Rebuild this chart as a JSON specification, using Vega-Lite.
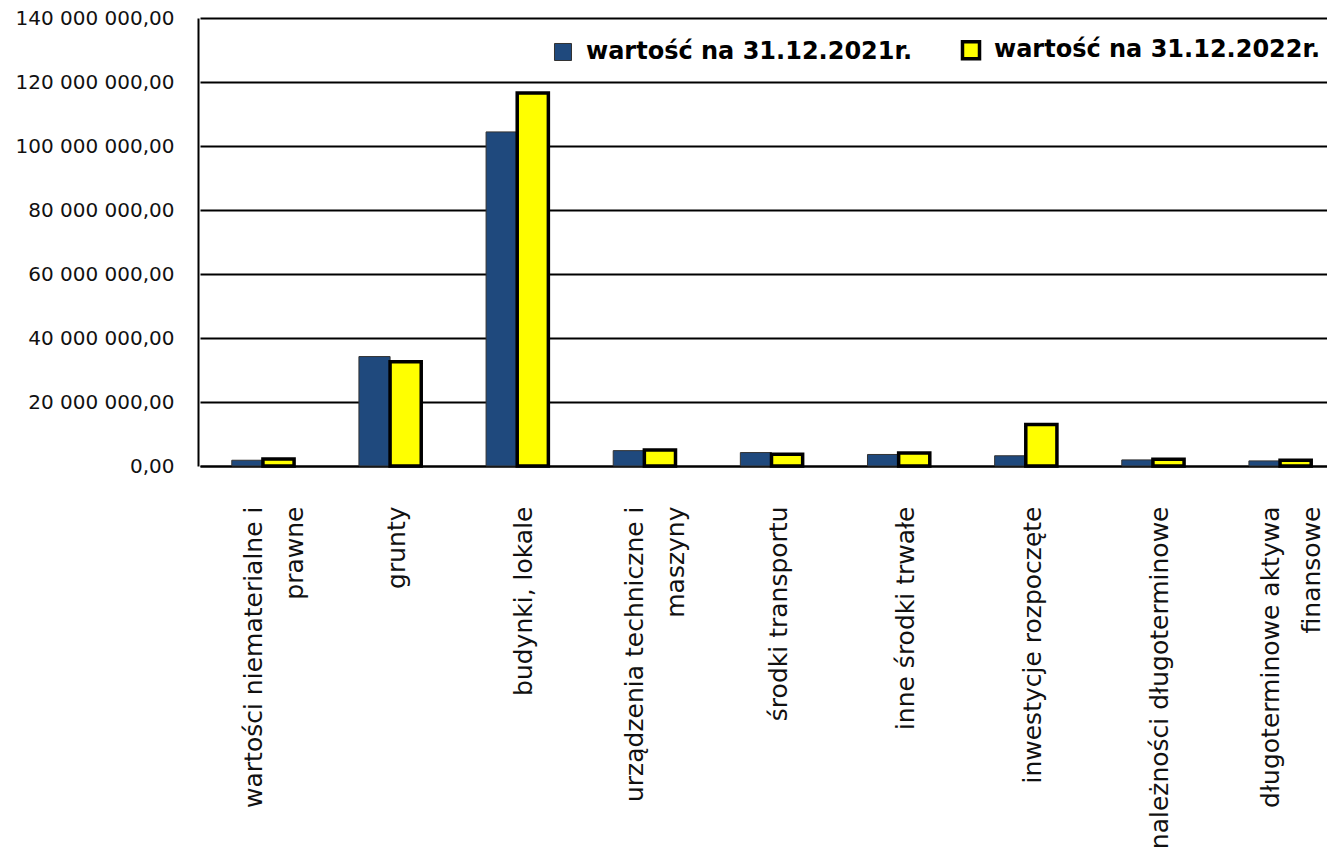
{
  "$schema": "https://vega.github.io/schema/vega-lite/v6.json",
  "autosize": {"type": "none"},
  "padding": {"left": 198, "top": 18, "right": 0, "bottom": 385},
  "width": 1129,
  "height": 448,
  "background": "white",
  "config": {
    "view": {"stroke": null},
    "font": "DejaVu Sans"
  },
  "data": {
    "values": [
      {"kategoria": "wartości niematerialne i prawne", "seria": "wartość na 31.12.2021r.", "wartosc": 1800000},
      {"kategoria": "wartości niematerialne i prawne", "seria": "wartość na 31.12.2022r.", "wartosc": 2200000},
      {"kategoria": "grunty", "seria": "wartość na 31.12.2021r.", "wartosc": 34200000},
      {"kategoria": "grunty", "seria": "wartość na 31.12.2022r.", "wartosc": 32600000},
      {"kategoria": "budynki, lokale", "seria": "wartość na 31.12.2021r.", "wartosc": 104400000},
      {"kategoria": "budynki, lokale", "seria": "wartość na 31.12.2022r.", "wartosc": 116600000},
      {"kategoria": "urządzenia techniczne i maszyny", "seria": "wartość na 31.12.2021r.", "wartosc": 4800000},
      {"kategoria": "urządzenia techniczne i maszyny", "seria": "wartość na 31.12.2022r.", "wartosc": 5000000},
      {"kategoria": "środki transportu", "seria": "wartość na 31.12.2021r.", "wartosc": 4200000},
      {"kategoria": "środki transportu", "seria": "wartość na 31.12.2022r.", "wartosc": 3700000},
      {"kategoria": "inne środki trwałe", "seria": "wartość na 31.12.2021r.", "wartosc": 3600000},
      {"kategoria": "inne środki trwałe", "seria": "wartość na 31.12.2022r.", "wartosc": 4100000},
      {"kategoria": "inwestycje rozpoczęte", "seria": "wartość na 31.12.2021r.", "wartosc": 3200000},
      {"kategoria": "inwestycje rozpoczęte", "seria": "wartość na 31.12.2022r.", "wartosc": 13000000},
      {"kategoria": "należności długoterminowe", "seria": "wartość na 31.12.2021r.", "wartosc": 1900000},
      {"kategoria": "należności długoterminowe", "seria": "wartość na 31.12.2022r.", "wartosc": 2100000},
      {"kategoria": "długoterminowe aktywa finansowe", "seria": "wartość na 31.12.2021r.", "wartosc": 1600000},
      {"kategoria": "długoterminowe aktywa finansowe", "seria": "wartość na 31.12.2022r.", "wartosc": 1800000}
    ]
  },
  "mark": {"type": "bar"},
  "encoding": {
    "x": {
      "field": "kategoria",
      "type": "nominal",
      "sort": null,
      "scale": {"range": [2, 1145], "paddingInner": 0.51, "paddingOuter": 0.25},
      "axis": {
        "title": null,
        "labelAngle": -90,
        "labelFont": "DejaVu Sans",
        "labelFontSize": 25,
        "labelColor": "#111111",
        "labelPadding": 40,
        "labelOffset": {
          "condition": {
            "test": "indexof(['wartości niematerialne i prawne', 'urządzenia techniczne i maszyny', 'długoterminowe aktywa finansowe'], datum.value) >= 0",
            "value": -9
          },
          "value": 7
        },
        "labelLineHeight": 41,
        "labelLimit": 0,
        "ticks": false,
        "domainColor": "#000000",
        "domainWidth": 2,
        "labelExpr": "datum.value == 'wartości niematerialne i prawne' ? ['wartości niematerialne i', 'prawne'] : datum.value == 'urządzenia techniczne i maszyny' ? ['urządzenia techniczne i', 'maszyny'] : datum.value == 'długoterminowe aktywa finansowe' ? ['długoterminowe aktywa', 'finansowe'] : datum.value"
      }
    },
    "xOffset": {"field": "seria", "type": "nominal", "scale": {"paddingInner": 0, "paddingOuter": 0}},
    "y": {
      "field": "wartosc",
      "type": "quantitative",
      "scale": {"domain": [0, 140000000], "nice": false},
      "axis": {
        "title": null,
        "values": [0, 20000000, 40000000, 60000000, 80000000, 100000000, 120000000, 140000000],
        "labelExpr": "replace(replace(format(datum.value, ',.2f'), regexp(',', 'g'), ' '), '.', ',')",
        "labelFont": "DejaVu Sans",
        "labelFontSize": 20,
        "labelColor": "#111111",
        "labelPadding": 24,
        "ticks": false,
        "domainColor": "#000000",
        "domainWidth": 2,
        "grid": true,
        "gridColor": "#000000",
        "gridWidth": 2,
        "gridOpacity": 1
      }
    },
    "fill": {
      "field": "seria",
      "type": "nominal",
      "scale": {"range": ["#1F497D", "#FFFF00"]},
      "legend": {
        "title": null,
        "orient": "none",
        "legendX": 353,
        "legendY": 20,
        "direction": "horizontal",
        "symbolType": "square",
        "symbolSize": 290,
        "labelFont": "DejaVu Sans",
        "labelFontSize": 24,
        "labelFontWeight": "bold",
        "labelColor": "#000000",
        "labelOffset": 11,
        "columnPadding": 42,
        "labelLimit": 0,
        "padding": 0
      }
    },
    "stroke": {
      "field": "seria",
      "type": "nominal",
      "scale": {"range": ["#333333", "#000000"]},
      "legend": null
    },
    "strokeWidth": {
      "field": "seria",
      "type": "nominal",
      "scale": {"range": [1, 3.5]},
      "legend": null
    }
  }
}
